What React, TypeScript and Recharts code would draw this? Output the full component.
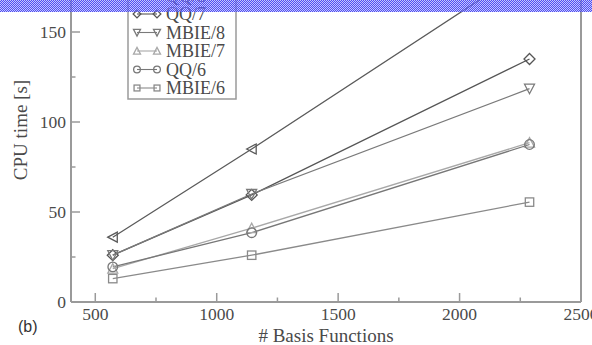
import React from 'react';
import { LineChart, Line, XAxis, YAxis } from 'recharts';

const basisFunctions = [572, 1144, 2288];
const qq8 = [36, 85, 186];
const qq7 = [26, 59.5, 135];
const mbie8 = [26, 60, 118.5];
const mbie7 = [18.5, 41, 88.5];
const qq6 = [19.5, 38.5, 87.5];
const mbie6 = [13, 26, 55.5];

const xTicks = [500, 750, 1000, 1250, 1500, 1750, 2000, 2250, 2500];
const xLabelTicks = [500, 1000, 1500, 2000, 2500];
const yTicks = [0, 25, 50, 75, 100, 125, 150, 175, 200];
const yLabelTicks = [0, 50, 100, 150, 200];

type Shape = 'tleft' | 'diamond' | 'tdown' | 'tup' | 'circle' | 'square';

const series: { key: string; name: string; values: number[]; color: string; shape: Shape }[] = [
  { key: 'qq8', name: 'QQ/8', values: qq8, color: '#5a5a5a', shape: 'tleft' },
  { key: 'qq7', name: 'QQ/7', values: qq7, color: '#555555', shape: 'diamond' },
  { key: 'mbie8', name: 'MBIE/8', values: mbie8, color: '#7a7a7a', shape: 'tdown' },
  { key: 'mbie7', name: 'MBIE/7', values: mbie7, color: '#a8a8a8', shape: 'tup' },
  { key: 'qq6', name: 'QQ/6', values: qq6, color: '#777777', shape: 'circle' },
  { key: 'mbie6', name: 'MBIE/6', values: mbie6, color: '#8a8a8a', shape: 'square' },
];

const data = basisFunctions.map((x, i) => {
  const row: Record<string, number> = { x };
  series.forEach((s) => {
    row[s.key] = s.values[i];
  });
  return row;
});

const SERIF = '"Liberation Serif", "Times New Roman", serif';
const AXIS = '#9a9a9a';
const TXT = '#4a4a4a';

function Marker({ cx, cy, shape, color, s = 1 }: { cx: number; cy: number; shape: Shape; color: string; s?: number }) {
  const common = { fill: 'none', stroke: color, strokeWidth: 1.3 };
  switch (shape) {
    case 'tleft':
      return <polygon points={`${cx - 5 * s},${cy} ${cx + 4.5 * s},${cy - 5 * s} ${cx + 4.5 * s},${cy + 5 * s}`} {...common} />;
    case 'diamond':
      return <polygon points={`${cx},${cy - 5.5 * s} ${cx + 5.5 * s},${cy} ${cx},${cy + 5.5 * s} ${cx - 5.5 * s},${cy}`} {...common} />;
    case 'tdown':
      return <polygon points={`${cx - 5 * s},${cy - 4.5 * s} ${cx + 5 * s},${cy - 4.5 * s} ${cx},${cy + 5 * s}`} {...common} />;
    case 'tup':
      return <polygon points={`${cx - 5 * s},${cy + 4.5 * s} ${cx + 5 * s},${cy + 4.5 * s} ${cx},${cy - 5 * s}`} {...common} />;
    case 'circle':
      return <circle cx={cx} cy={cy} r={4.8 * s} {...common} />;
    default:
      return <rect x={cx - 4.2 * s} y={cy - 4.2 * s} width={8.4 * s} height={8.4 * s} {...common} />;
  }
}

const XTick = (props: any) => {
  const { x, y, payload } = props;
  const v = payload.value;
  const major = xLabelTicks.includes(v);
  return (
    <g>
      <line x1={x} x2={x} y1={y} y2={y - (major ? 9 : 4.5)} stroke={AXIS} strokeWidth={1.5} />
      {major && (
        <text x={x} y={y + 18} textAnchor="middle" fontFamily={SERIF} fontSize={17.5} fill={TXT}>
          {v}
        </text>
      )}
    </g>
  );
};

const YTickLeft = (props: any) => {
  const { x, y, payload } = props;
  const v = payload.value;
  const major = yLabelTicks.includes(v);
  return (
    <g>
      <line x1={x} x2={x + (major ? 9 : 4.5)} y1={y} y2={y} stroke={AXIS} strokeWidth={1.5} />
      {major && (
        <text x={x - 5} y={y + 6} textAnchor="end" fontFamily={SERIF} fontSize={17.5} fill={TXT}>
          {v}
        </text>
      )}
    </g>
  );
};

const YTickRight = (props: any) => {
  const { x, y, payload } = props;
  const major = yLabelTicks.includes(payload.value);
  return <line x1={x} x2={x - (major ? 9 : 4.5)} y1={y} y2={y} stroke={AXIS} strokeWidth={1.5} />;
};

function LegendBox() {
  const left = 128;
  const right = 236;
  const bottom = 99;
  const rowH = 18.5;
  const rows = series.length;
  const firstRow = bottom - 11 - (rows - 1) * rowH;
  const top = firstRow - 12;
  return (
    <g>
      <rect x={left} y={top} width={right - left} height={bottom - top} fill="white" stroke={AXIS} strokeWidth={1.5} />
      {series.map((s, i) => {
        const cy = firstRow + i * rowH;
        return (
          <g key={s.key}>
            <line x1={137} x2={157} y1={cy} y2={cy} stroke={s.color} strokeWidth={1.1} />
            <Marker cx={137} cy={cy} shape={s.shape} color={s.color} s={0.7} />
            <Marker cx={157} cy={cy} shape={s.shape} color={s.color} s={0.7} />
            <text x={166} y={cy + 6} fontFamily={SERIF} fontSize={18} fill={TXT}>
              {s.name}
            </text>
          </g>
        );
      })}
    </g>
  );
}

export default function App() {
  return (
    <div
      style={{
        position: 'absolute',
        left: 0,
        top: 0,
        width: 592,
        height: 345,
        overflow: 'hidden',
        background: '#ffffff',
      }}
    >
      <div style={{ position: 'absolute', left: 0, top: -70 }}>
        <LineChart width={592} height={415} data={data} margin={{ top: 12, right: 0, bottom: 0, left: 0 }}>
          <XAxis
            dataKey="x"
            type="number"
            domain={[400, 2500]}
            ticks={xTicks}
            interval={0}
            height={43}
            tickSize={0}
            tickMargin={0}
            tickLine={false}
            axisLine={{ stroke: AXIS, strokeWidth: 2 }}
            tick={<XTick />}
          />
          <YAxis
            yAxisId="left"
            type="number"
            domain={[0, 200]}
            ticks={yTicks}
            interval={0}
            width={71}
            tickSize={0}
            tickMargin={0}
            tickLine={false}
            axisLine={{ stroke: AXIS, strokeWidth: 2 }}
            tick={<YTickLeft />}
          />
          <YAxis
            yAxisId="right"
            orientation="right"
            type="number"
            domain={[0, 200]}
            ticks={yTicks}
            interval={0}
            width={11}
            tickSize={0}
            tickMargin={0}
            tickLine={false}
            axisLine={{ stroke: AXIS, strokeWidth: 2 }}
            tick={<YTickRight />}
          />
          {series.map((s) => (
            <Line
              key={s.key}
              yAxisId="left"
              dataKey={s.key}
              type="linear"
              stroke={s.color}
              strokeWidth={1.3}
              isAnimationActive={false}
              activeDot={false}
              dot={(p: any) => (
                <g key={`${s.key}-${p.index}`}>
                  <Marker cx={p.cx} cy={p.cy} shape={s.shape} color={s.color} />
                </g>
              )}
            />
          ))}
        </LineChart>
      </div>
      <svg width={592} height={345} style={{ position: 'absolute', left: 0, top: 0 }}>
        <LegendBox />
        <text
          x={20}
          y={130}
          transform="rotate(-90 20 130)"
          textAnchor="middle"
          dominantBaseline="central"
          fontFamily={SERIF}
          fontSize={19}
          fill={TXT}
        >
          CPU time [s]
        </text>
        <text x={326} y={342} textAnchor="middle" fontFamily={SERIF} fontSize={19} fill={TXT}>
          # Basis Functions
        </text>
        <text x={18} y={332} fontFamily='"Liberation Sans", Arial, sans-serif' fontSize={16} fill="#333">
          (b)
        </text>
      </svg>
      <div
        style={{
          position: 'absolute',
          left: 0,
          top: 0,
          width: 592,
          height: 12,
          backgroundImage:
            'repeating-conic-gradient(rgba(70,70,240,0.95) 0 25%, rgba(150,150,255,0.55) 0 50%)',
          backgroundSize: '2px 2px',
        }}
      />
    </div>
  );
}
